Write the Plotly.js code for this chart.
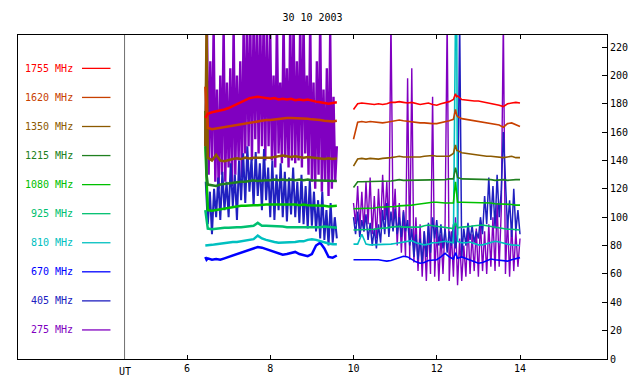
<!DOCTYPE html>
<html>
<head>
<meta charset="utf-8">
<script src="https://cdn.plot.ly/plotly-3.0.1.min.js"></script>
<style>html,body{margin:0;padding:0;background:#fff;}#chart{width:640px;height:384px;}</style>
</head>
<body>
<div id="chart"></div>
<script>
// ---------- DATA ----------
const freqLabels = ['1755 MHz','1620 MHz','1350 MHz','1215 MHz','1080 MHz','925 MHz','810 MHz','670 MHz','405 MHz','275 MHz'];
const freqColors = ['#ff0000','#c84000','#8c5a00','#208020','#00c000','#00c070','#00c0c0','#0000ff','#2020c0','#8000c0'];

// smooth channels, segment 1 and segment 2 time grids (UT hours)
const timesA = [6.44,6.47,6.5,6.6,6.7,6.8,6.9,7.0,7.1,7.2,7.3,7.4,7.5,7.6,7.7,7.8,7.9,8.0,8.1,8.2,8.3,8.4,8.5,8.6,8.7,8.8,8.9,9.0,9.1,9.2,9.3,9.4,9.5,9.6];
const timesB = [10.0,10.1,10.2,10.3,10.4,10.5,10.6,10.7,10.8,10.9,11.0,11.1,11.2,11.3,11.4,11.5,11.6,11.7,11.8,11.9,12.0,12.1,12.2,12.3,12.4,12.45,12.48,12.5,12.6,12.7,12.8,12.9,13.0,13.1,13.2,13.3,13.4,13.5,13.6,13.7,13.8,13.9,14.0];

const f1755A = [170,172,173,174,174.5,175,176,177,178.5,180,181,182.5,184,184.5,185,184.5,184,183.5,184,183,183.5,183,183.5,182.5,183,182.5,183,182,181.5,181,180.5,180,180.5,181];
const f1755B = [176,180,180.5,180,180,179.5,180,179.5,180,181,181,181.5,181,180.5,181,180.5,179.5,180,180.5,179.5,179,180,180.5,181.5,183,187,185,185.5,183,182.5,182.5,182,182,181.5,181,180.5,180,179,178,180,180.5,181,180.5];
const f1620A = [192,172,163,162,162.5,163,164,164.5,165,165.5,166,166.5,167,167.5,168,168,168.5,168.5,169,169.5,169.5,170,170,170,170,169.5,169.5,169,169,168.5,168,167.5,167.5,168];
const f1620B = [155,167,167.5,167,167.5,167,167,166.5,167,167.5,168,168.5,168,167.5,167.5,167,166.5,166.5,166,166,166,166.5,167,168,169,176,172,171,169.5,169,168.5,168,167.5,167,166.5,166,165.5,165,163.5,166,166.5,165,164];
const f1350A = [150,235,142,140,144,140,139.5,140.5,141,141.5,141,142,141.5,142,142,141.5,142,142,142.5,143,143.5,143,142.5,143,142.5,142,142.5,142,142,141.5,141,141.5,141,141.5];
const f1350B = [136,141,141.5,141,141.5,141,141,141.5,141.5,142,142.5,143,142.5,142.5,142,142.5,142.5,143,143.5,143.5,143,143,142.5,143,145,151,147,147,145.5,145,144.5,144,144,143.5,143,143,142.5,142.5,142,142.5,143,142,142];
const f1215A = [175,130,123,122.5,122,123,123.5,124,124,124.5,125,125,125.5,126,125.5,126,126,126,126.5,126,126.5,126,126.5,126,126.5,126,126.5,126,126,125.5,126,125.5,125.5,125.5];
const f1215B = [121,125,125,125,125.5,125,125,125,125.5,125.5,126,126.5,126,126,126,126.5,126.5,126.5,126,126.5,126.5,126.5,126.5,127,127,135,130,128,127,127,126.5,126.5,127,127,126.5,126.5,126,126.5,126.5,126,126.5,126.5,126.5];
const f1080A = [150,125,105,104.5,105,106,106.5,107,107.5,107.5,108,108,108.5,108.5,108.5,109,109,109,109,109.5,109,109.5,109,109,108.5,109,108.5,108.5,108.5,108,108,107.5,107.5,108];
const f1080B = [106,106,106.5,106.5,106.5,106.5,107,107,107,107.5,107.5,108,108,108.5,108.5,109,109.5,109.5,110,110.5,110.5,110,110,110,110,125,115,110.5,110.5,110.5,110.5,110.5,110.5,110.5,110,110,109.5,109.5,109.5,109,109,108.5,108.5];
const f925A = [105,98,92,91.5,92,92,92.5,92.5,93,93,93,93.5,93.5,94,96,94,94,94,94,93.5,93.5,93,93,93,92.5,92.5,92.5,92.5,93,93,93.5,93,92.5,92.5];
const f925B = [91,91,91,91.5,91.5,91.5,92,92,92.5,93,93.5,93.5,93,93,92.5,92.5,93,94,94.5,94,93.5,93,92.5,92.5,92,96,93,92.5,93,93,93.5,94,94.5,94.5,94,93.5,92.5,92,92,91.5,91.5,91,91];
const f810A = [80,80,80.5,80.5,81,81.5,82,82,82.5,82.5,83,83.5,84,84.5,87,85,84,83,82.5,82,82,82.5,82,82.5,83,83,84,84.5,84,83,82,81.5,81,81];
const f810B = [81,81,88,81,80.5,80.5,80.5,80.5,81,81,81.5,82,82.5,83,83.5,82,81,80.5,81,82,82,82.5,83,82.5,82,240,240,83,82,82,82.5,81.5,80.5,80.5,81.5,82.5,83,82.5,81.5,81,80.5,80,80];
const f670A = [72,70,71,70,70.5,70,71,72,73,74,75.5,76,77,78,79,78.5,77.5,76,75,74,73.5,74,75,75.5,74,73,72.5,74,80,82,78,72,71.5,73];
const f670B = [70,70,70.5,70,70.5,70,70,69.5,69,69.5,70.5,72,72.5,72,70,68.5,67.5,68,69.5,70,70,72,74.5,72,70.5,75,72,71,72,71,70,68.5,67.5,68,69.5,70.5,70,69.5,69.5,69,70,71,71.5];

// noisy channels
const timesFineA = [6.45,6.5,6.55,6.6,6.65,6.7,6.75,6.8,6.85,6.9,6.95,7,7.05,7.1,7.15,7.2,7.25,7.3,7.35,7.4,7.45,7.5,7.55,7.6,7.65,7.7,7.75,7.8,7.85,7.9,7.95,8,8.05,8.1,8.15,8.2,8.25,8.3,8.35,8.4,8.45,8.5,8.55,8.6,8.65,8.7,8.75,8.8,8.85,8.9,8.95,9,9.05,9.1,9.15,9.2,9.25,9.3,9.35,9.4,9.45,9.5,9.55,9.6];
const timesDenseA = [6.44,6.48,6.52,6.56,6.6,6.64,6.68,6.72,6.76,6.8,6.84,6.88,6.92,6.96,7,7.04,7.08,7.12,7.16,7.2,7.24,7.28,7.32,7.36,7.4,7.44,7.48,7.52,7.56,7.6,7.64,7.68,7.72,7.76,7.8,7.84,7.88,7.92,7.96,8,8.04,8.08,8.12,8.16,8.2,8.24,8.28,8.32,8.36,8.4,8.44,8.48,8.52,8.56,8.6,8.64,8.68,8.72,8.76,8.8,8.84,8.88,8.92,8.96,9,9.04,9.08,9.12,9.16,9.2,9.24,9.28,9.32,9.36,9.4,9.44,9.48,9.52,9.56,9.6];
const timesFineB = [10,10.05,10.1,10.15,10.2,10.25,10.3,10.35,10.4,10.45,10.5,10.55,10.6,10.65,10.7,10.75,10.8,10.85,10.9,10.95,11,11.05,11.1,11.15,11.2,11.25,11.3,11.35,11.4,11.45,11.5,11.55,11.6,11.65,11.7,11.75,11.8,11.85,11.9,11.95,12,12.05,12.1,12.15,12.2,12.25,12.3,12.35,12.4,12.45,12.5,12.55,12.6,12.65,12.7,12.75,12.8,12.85,12.9,12.95,13,13.05,13.1,13.15,13.2,13.25,13.3,13.35,13.4,13.45,13.5,13.55,13.6,13.65,13.7,13.75,13.8,13.85,13.9,13.95,14];

const f405A = [125,95,118,88,120,100,128,98,132,105,125,100,138,108,130,98,140,112,145,110,150,118,142,108,146,115,138,105,148,112,135,100,140,98,130,105,138,100,132,97,128,102,135,100,125,96,130,95,122,92,126,94,118,90,112,85,118,84,105,80,110,82,100,85];
const f405B = [100,88,104,86,98,90,102,84,96,80,92,78,95,82,105,88,110,86,104,90,106,88,100,86,104,90,98,80,92,72,88,70,85,68,90,72,96,75,100,85,98,80,95,78,92,75,90,80,95,78,88,240,72,92,80,96,84,94,82,90,85,100,88,115,95,128,98,122,92,130,100,118,160,125,92,112,86,120,90,105,88];
const f275A = [150,235,130,210,140,235,125,190,120,200,130,235,125,195,135,205,122,235,130,200,140,210,128,235,145,240,150,240,140,240,155,240,145,240,150,240,140,240,150,230,140,200,135,240,145,195,138,240,142,205,135,240,140,240,138,210,140,240,135,240,145,200,130,240,125,195,120,210,130,240,118,190,125,205,115,230,120,185,125,150];
const f275B = [110,95,122,92,118,90,125,95,128,88,115,85,120,92,130,98,125,90,240,95,120,80,110,75,105,72,198,70,205,68,100,62,95,58,90,55,95,60,185,58,92,55,88,60,95,240,55,90,58,100,52,85,55,80,58,95,60,88,62,92,58,98,62,90,60,95,65,100,62,110,65,105,240,60,100,58,95,62,90,65,85];

const xTickVals = [6,8,10,12,14];
const yTickVals = [0,20,40,60,80,100,120,140,160,180,200,220];
const utMark = 4.5;
const titleText = '30 10 2003';

// ---------- TRACES ----------
const FONT = 'DejaVu Sans Mono, monospace';
const traces = [];
function add(x, y, color, w) {
  traces.push({x: x, y: y, type: 'scatter', mode: 'lines', line: {color: color, width: w}, hoverinfo: 'skip', showlegend: false});
}
// draw order: 275 first, then 405, then smooth channels bottom to top
add(timesDenseA, f275A, freqColors[9], 2.4);
add(timesFineB, f275B, freqColors[9], 1.4);
add(timesFineA, f405A, freqColors[8], 2.0);
add(timesFineB, f405B, freqColors[8], 1.5);
const smooth = [
  [f670A, f670B, 7], [f810A, f810B, 6], [f925A, f925B, 5], [f1080A, f1080B, 4],
  [f1215A, f1215B, 3], [f1350A, f1350B, 2], [f1620A, f1620B, 1], [f1755A, f1755B, 0]
];
smooth.forEach(s => {
  add(timesA, s[0], freqColors[s[2]], 2.5);
  add(timesB, s[1], freqColors[s[2]], 1.6);
});

// ---------- LEGEND (annotations + short lines) ----------
const annotations = [];
const shapes = [];
freqLabels.forEach((lab, i) => {
  const yp = 0.0897 * (10 - i);
  annotations.push({xref: 'paper', yref: 'paper', x: 0.0975, y: yp, text: lab, showarrow: false,
    xanchor: 'right', yanchor: 'middle', font: {family: FONT, size: 10, color: freqColors[i]}});
  shapes.push({type: 'line', xref: 'paper', yref: 'paper', x0: 0.1087, x1: 0.157, y0: yp, y1: yp,
    line: {color: freqColors[i], width: 1.3}});
});
shapes.push({type: 'line', xref: 'x', yref: 'paper', x0: utMark, x1: utMark, y0: 0, y1: 1,
  line: {color: '#707070', width: 1}});
annotations.push({xref: 'x', yref: 'paper', x: utMark, y: 0, yshift: -12, text: 'UT', showarrow: false,
  xanchor: 'center', yanchor: 'middle', font: {family: FONT, size: 10, color: '#000'}});

const layout = {
  width: 640, height: 384,
  margin: {l: 18, r: 33, t: 35, b: 25, pad: 0},
  paper_bgcolor: '#fff', plot_bgcolor: '#fff',
  title: {text: titleText, x: 0.5, xref: 'paper', xanchor: 'center', y: 1 - 17/384, yanchor: 'middle',
    font: {family: FONT, size: 10, color: '#000'}},
  font: {family: FONT, size: 10, color: '#000'},
  showlegend: false,
  hovermode: false,
  xaxis: {range: [1.94, 16.09], tickvals: xTickVals, ticktext: xTickVals.map(String),
    ticks: 'inside', ticklen: 4, tickcolor: '#000', mirror: 'ticks', showline: true, linecolor: '#000', linewidth: 1,
    showgrid: false, zeroline: false, tickfont: {family: FONT, size: 10, color: '#000'}},
  yaxis: {range: [0, 228.5], side: 'right', tickvals: yTickVals, ticktext: yTickVals.map(String),
    ticks: 'inside', ticklen: 5, tickcolor: '#000', mirror: true, showline: true, linecolor: '#000', linewidth: 1,
    showgrid: false, zeroline: false, tickfont: {family: FONT, size: 10, color: '#000'}},
  annotations: annotations,
  shapes: shapes
};
Plotly.newPlot('chart', traces, layout, {displayModeBar: false, staticPlot: true});
</script>
</body>
</html>
